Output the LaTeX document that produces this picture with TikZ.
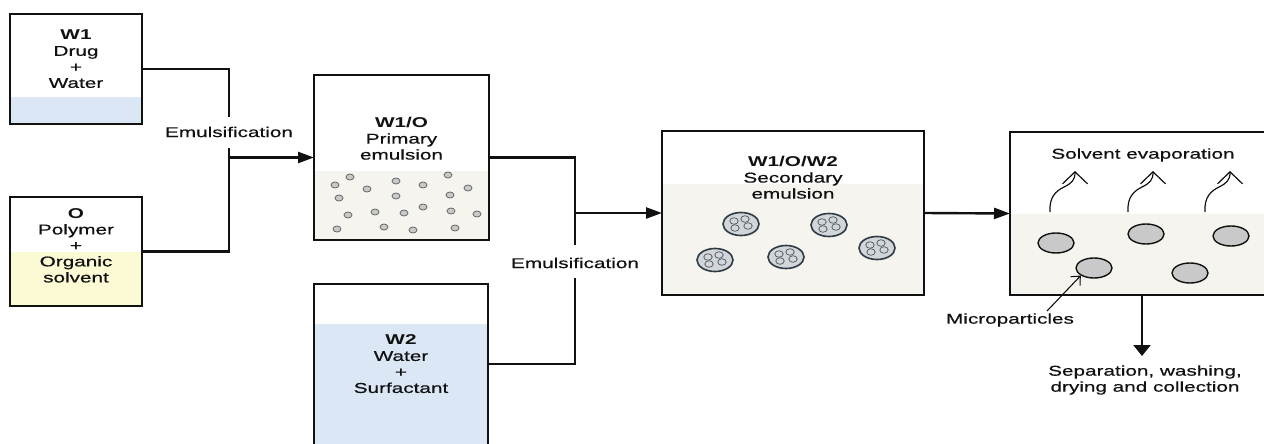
\documentclass[tikz,border=0pt]{standalone}
\usepackage{fontspec}
\setmainfont[FakeStretch=1.46,UprightFeatures={FakeBold=0.6}]{Liberation Sans}
\usetikzlibrary{arrows.meta,calc,shapes.geometric}
\definecolor{wblue}{HTML}{DBE7F4}
\definecolor{oyellow}{HTML}{FBFAD5}
\definecolor{beige}{HTML}{F5F4EE}
\definecolor{pgray}{HTML}{C9C9C9}
\definecolor{dgray}{HTML}{D3D6D9}
\definecolor{slate}{HTML}{2E3B45}
\definecolor{ink}{HTML}{111111}
\begin{document}
\begin{tikzpicture}[x=1pt,y=-1pt,
  area/.style={draw=none,rectangle,inner sep=0pt,outer sep=0pt},
  border/.style={draw=ink,line width=2.6pt,line join=miter},
  txt/.style={font=\fontsize{14.2}{16}\selectfont,align=center,inner sep=0pt,text=ink},
  conn/.style={draw=ink,line width=2.4pt},
  harr/.style={conn,-{Triangle[length=16pt,width=11pt]}},
  varr/.style={conn,-{Triangle[length=11pt,width=17pt]}},
  evap/.style={draw=ink,line width=1.2pt,-{Straight Barb[length=12pt,width=25pt]}},
  ptr/.style={draw=ink,line width=1.1pt,-{Straight Barb[length=7pt,width=13pt]}},
  dot/.style={draw=black!60,fill=pgray,line width=0.8pt},
  drop/.style={ellipse,draw=slate,fill=dgray,line width=1.6pt,minimum width=36pt,minimum height=23pt,inner sep=0pt},
  inner/.style={draw=slate!80,fill=dgray,line width=0.8pt},
  part/.style={ellipse,draw=ink,fill=pgray,line width=1.4pt,minimum width=36pt,minimum height=20pt,inner sep=0pt}]
\useasboundingbox (0,0) rectangle (1264,444);

% ---------- box geometry ----------
\node[area,minimum width=132pt,minimum height=110pt] (w1) at (76,69) {};
\node[area,minimum width=132pt,minimum height=109pt] (o) at (76,251.5) {};
\node[area,minimum width=175pt,minimum height=165pt] (w1o) at (401.5,157.5) {};
\node[area,minimum width=174pt,minimum height=160pt] (w2) at (401,364) {};
\node[area,minimum width=262pt,minimum height=164pt] (w1ow2) at (793,213) {};
\node[area,minimum width=254pt,minimum height=163pt] (fin) at (1137,213.5) {};

% ---------- fills ----------
\fill[wblue] (w1.south west) rectangle (w1.east |- 0,97);
\fill[oyellow] (o.south west) rectangle (o.east |- 0,252);
\fill[beige] (w1o.south west) rectangle (w1o.east |- 0,171);
\fill[wblue] (w2.south west) rectangle (w2.east |- 0,324);
\fill[beige] (w1ow2.south west) rectangle (w1ow2.east |- 0,184);
\fill[beige] (fin.south west) rectangle (fin.east |- 0,214);

% ---------- borders ----------
\draw[border] (w1.south west) rectangle (w1.north east);
\draw[border] (o.south west) rectangle (o.north east);
\draw[border] (w1o.south west) rectangle (w1o.north east);
\draw[border] (w2.south west) -- (w2.north west) -- (w2.north east) -- (w2.south east);
\draw[border] (w1ow2.south west) rectangle (w1ow2.north east);
\draw[border] (fin.north east) -- (fin.north west) -- (fin.south west) -- (fin.south east);

% ---------- texts ----------
\node[txt] (w1t) at (76,59) {\textbf{W1}\\Drug\\+\\Water};
\node[txt] (ot) at (76,245.5) {\textbf{O}\\Polymer\\+\\Organic\\solvent};
\node[txt] (w1ot) at (401.5,138.5) {\textbf{W1/O}\\Primary\\emulsion};
\node[txt] (w2t) at (401,364) {\textbf{W2}\\Water\\+\\Surfactant};
\node[txt] (w1ow2t) at (793,177.5) {\textbf{W1/O/W2}\\Secondary\\emulsion};
\node[txt] (em1) at (229,132) {Emulsification};
\node[txt] (em2) at (575,263) {Emulsification};
\node[txt] (se) at (1143,155) {Solvent evaporation};
\node[txt] (mp) at (1010,320) {Microparticles};
\node[txt] (sep) at (1145,380) {Separation, washing,\\drying and collection};

% ---------- connectors ----------
\coordinate (j1a) at (229,117);
\coordinate (j1b) at (229,148);
\draw[conn] (w1.east) -| (j1a);
\draw[conn] (o.east) -| (j1b);
\draw[harr] (j1b |- w1o.west) -- (w1o.west);

\coordinate (j2a) at (575,245);
\coordinate (j2b) at (575,278);
\draw[conn] (w1o.east) -| (j2a);
\draw[conn] (w2.east) -| (j2b);
\draw[harr] (j2a |- w1ow2.west) -- (w1ow2.west);

\draw[harr] (w1ow2.east) -- (fin.west);

\coordinate (septop) at (1142,356);
\draw[varr] (fin.south -| septop) -- (septop);

% ---------- W1/O droplets ----------
\foreach \p in {(335,185),(350,177),(367,189),(396,181),(423,185),(448,175),(468,188),
                (339,198),(396,196),(450,195),
                (348,215),(375,212),(404,213),(423,207),(451,211),(477,214),
                (337,229),(384,227),(413,230),(455,228)}
  \draw[dot] \p ellipse [x radius=4pt,y radius=3pt];

% ---------- W1/O/W2 double-emulsion droplets ----------
\foreach \n/\pos in {d1/{(741,224)},d2/{(829,225)},d3/{(715,260)},d4/{(786,257)},d5/{(877,248)}}{
  \node[drop] (\n) at \pos {};
  \foreach \dx/\dy in {-7/-3,4/-5,-6/4,7/2}
    \draw[inner] ($(\n)+(\dx,\dy)$) ellipse [x radius=4.2pt,y radius=3.3pt];
}

% ---------- microparticles ----------
\node[part] (p1) at (1056,243) {};
\node[part] (p2) at (1146,234) {};
\node[part] (p3) at (1231,236) {};
\node[part] (p4) at (1094,268) {};
\node[part] (p5) at (1190,273) {};

\coordinate (mpa) at (1047,311);
\draw[ptr] (mpa) -- (p4.south west);

% ---------- evaporation arrows ----------
\foreach \s in {0,78,155}{
  \draw[evap] (1050+\s,212) .. controls (1049+\s,197) and (1056+\s,191) .. (1064+\s,187)
              .. controls (1072+\s,183) and (1075+\s,180) .. (1075+\s,171);
}
\end{tikzpicture}
\end{document}
